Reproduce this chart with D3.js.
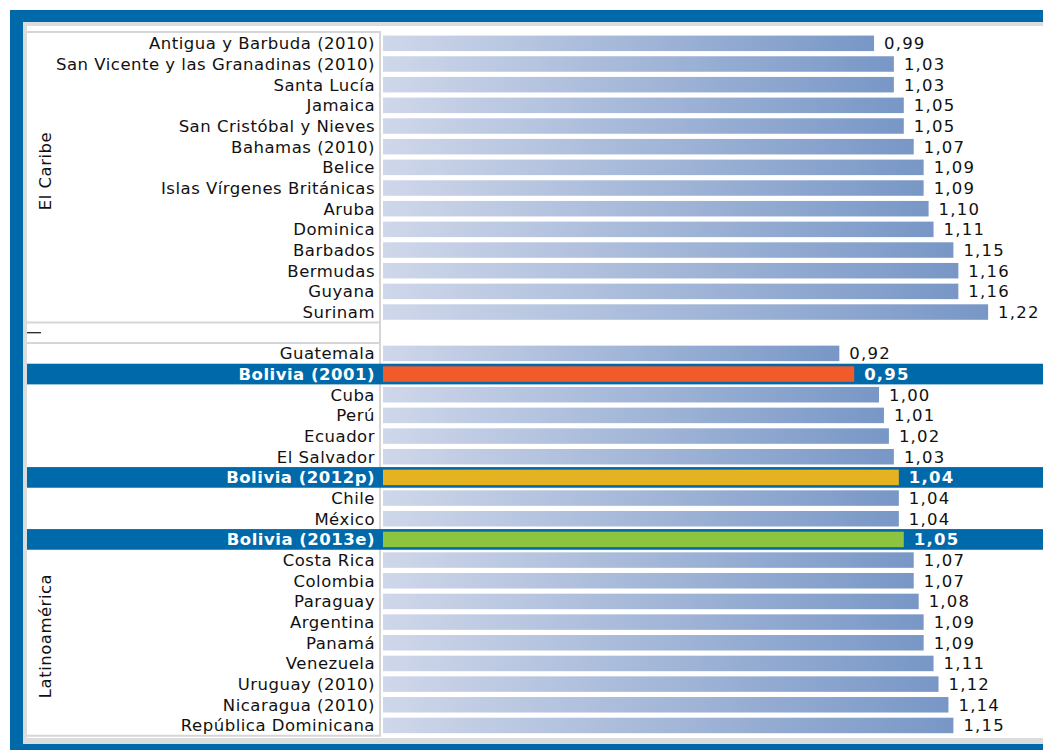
<!DOCTYPE html>
<html><head><meta charset="utf-8">
<script src="https://cdn.jsdelivr.net/npm/d3@7"></script>
<style>
html,body{margin:0;padding:0;background:#fff;}
svg{display:block;}
</style></head>
<body>
<script>
const caribeCountries = ["Antigua y Barbuda (2010)","San Vicente y las Granadinas (2010)","Santa Lucía","Jamaica","San Cristóbal y Nieves","Bahamas (2010)","Belice","Islas Vírgenes Británicas","Aruba","Dominica","Barbados","Bermudas","Guyana","Surinam"];
const caribeValues = [0.99,1.03,1.03,1.05,1.05,1.07,1.09,1.09,1.10,1.11,1.15,1.16,1.16,1.22];
const latamCountries = ["Guatemala","Bolivia (2001)","Cuba","Perú","Ecuador","El Salvador","Bolivia (2012p)","Chile","México","Bolivia (2013e)","Costa Rica","Colombia","Paraguay","Argentina","Panamá","Venezuela","Uruguay (2010)","Nicaragua (2010)","República Dominicana"];
const latamValues = [0.92,0.95,1.00,1.01,1.02,1.03,1.04,1.04,1.04,1.05,1.07,1.07,1.08,1.09,1.09,1.11,1.12,1.14,1.15];
const highlightNames = ["Bolivia (2001)","Bolivia (2012p)","Bolivia (2013e)"];
const highlightColors = ["#f15a2b","#e5b222","#8cc43f"];
const groupNames = ["El Caribe","Latinoamérica"];

const W = 1043, H = 750;
const svg = d3.select("body").append("svg").attr("width", W).attr("height", H);

// rows
const rows = [];
caribeCountries.forEach((c,i)=>rows.push({name:c, value:caribeValues[i], group:0}));
rows.push({name:"__sep", value:null, group:-1});
latamCountries.forEach((c,i)=>rows.push({name:c, value:latamValues[i], group:1}));

const y = d3.scaleBand().domain(rows.map((r,i)=>i)).range([33, 33 + 20.67*rows.length]).paddingInner(0.25).paddingOuter(0.125);
const x = d3.scaleLinear().domain([0, 1]).range([383, 879]);

// frame
svg.append("rect").attr("x",10).attr("y",10).attr("width",W).attr("height",H).attr("fill","#0069aa");
svg.append("rect").attr("x",23).attr("y",22).attr("width",W).attr("height",722).attr("fill","#dcdcdc");
svg.append("rect").attr("x",27).attr("y",26).attr("width",W).attr("height",712).attr("fill","#ffffff");

// gradient
const defs = svg.append("defs");
const grad = defs.append("linearGradient").attr("id","barGrad").attr("x1","0").attr("x2","1").attr("y1","0").attr("y2","0");
grad.append("stop").attr("offset","0%").attr("stop-color","#cfd7ea");
grad.append("stop").attr("offset","100%").attr("stop-color","#7897c6");

const bandStep = y.step();
const rowTop = i => y(i) - y.paddingInner()*bandStep/2;

// label panel borders
const panelG = svg.append("g");
const sepIdx = caribeCountries.length;
const firstTop = rowTop(0) - 1;
const sepTop = rowTop(sepIdx);
const sepBot = rowTop(sepIdx + 1);
const lastBot = rowTop(rows.length - 1) + bandStep;
const lineColor = "#d6d6d6";
panelG.append("line").attr("x1",27).attr("x2",381).attr("y1",firstTop).attr("y2",firstTop).attr("stroke",lineColor).attr("stroke-width",2);
panelG.append("line").attr("x1",27).attr("x2",381).attr("y1",sepTop).attr("y2",sepTop).attr("stroke",lineColor).attr("stroke-width",2);
panelG.append("line").attr("x1",27).attr("x2",381).attr("y1",sepBot).attr("y2",sepBot).attr("stroke",lineColor).attr("stroke-width",2);
panelG.append("line").attr("x1",27).attr("x2",381).attr("y1",lastBot).attr("y2",lastBot).attr("stroke",lineColor).attr("stroke-width",2);
panelG.append("line").attr("x1",380).attr("x2",380).attr("y1",firstTop).attr("y2",lastBot).attr("stroke",lineColor).attr("stroke-width",2);
// separator dash
panelG.append("line").attr("x1",27).attr("x2",41).attr("y1",y(sepIdx)+y.bandwidth()/2).attr("y2",y(sepIdx)+y.bandwidth()/2).attr("stroke","#111").attr("stroke-width",1.2);

// highlight bands
rows.forEach((r,i)=>{
  if (highlightNames.includes(r.name)) {
    svg.append("rect").attr("x",27).attr("y",rowTop(i)).attr("width",W).attr("height",bandStep).attr("fill","#0069aa");
  }
});

const font = "'DejaVu Sans', 'Noto Sans', sans-serif";
const g = svg.append("g");
rows.forEach((r,i)=>{
  if (r.value === null) return;
  const hi = highlightNames.indexOf(r.name);
  const cy = y(i) + y.bandwidth()/2;
  g.append("rect").attr("x", x(0)).attr("y", y(i)).attr("width", x(r.value) - x(0)).attr("height", y.bandwidth())
    .attr("fill", hi >= 0 ? highlightColors[hi] : "url(#barGrad)");
  g.append("text").attr("x", 375).attr("y", cy).attr("dy","0.36em").attr("text-anchor","end")
    .attr("font-family", font).attr("font-size", 16.5).attr("letter-spacing", 0.5).attr("font-weight", hi>=0 ? "bold" : "normal")
    .attr("fill", hi>=0 ? "#fff" : "#111").text(r.name);
  g.append("text").attr("x", x(r.value) + 10).attr("y", cy).attr("dy","0.36em")
    .attr("font-family", font).attr("font-size", 16.5).attr("letter-spacing", 1.2).attr("font-weight", hi>=0 ? "bold" : "normal")
    .attr("fill", hi>=0 ? "#fff" : "#111").text(d3.format(".2f")(r.value).replace(".", ","));
});

// group labels
svg.append("text").attr("transform","translate(51,171) rotate(-90)").attr("text-anchor","middle")
  .attr("font-family", font).attr("font-size", 16.5).attr("letter-spacing", 0.5).attr("fill","#111").text(groupNames[0]);
svg.append("text").attr("transform","translate(51,636) rotate(-90)").attr("text-anchor","middle")
  .attr("font-family", font).attr("font-size", 16.5).attr("letter-spacing", 0.5).attr("fill","#111").text(groupNames[1]);
</script>
</body></html>
